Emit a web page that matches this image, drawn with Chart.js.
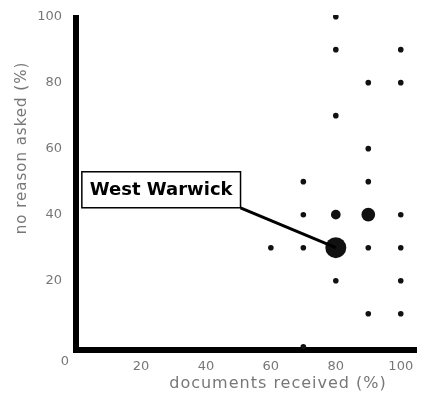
<!DOCTYPE html>
<html>
<head>
<meta charset="utf-8">
<script src="https://cdn.jsdelivr.net/npm/chart.js@4"></script>
<style>
  html, body { margin: 0; padding: 0; background: #fff; }
  #wrap { width: 431px; height: 400px; }
</style>
</head>
<body>
<div id="wrap"><canvas id="chart" width="431" height="400"></canvas></div>
<script>
// ==========================
// DATA
// ==========================
const docsReceived = [80, 80, 100, 90, 100, 80, 90, 70, 90, 70, 80, 90, 100, 60, 70, 80, 90, 100, 80, 100, 90, 100, 70];
const noReasonAsked = [100, 90, 90, 80, 80, 70, 60, 50, 50, 40, 40, 40, 40, 30, 30, 30, 30, 30, 20, 20, 10, 10, 0];
const townCounts = [1, 1, 1, 1, 1, 1, 1, 1, 1, 1, 3, 6, 1, 1, 1, 14, 1, 1, 1, 1, 1, 1, 1];
const xTickValues = [20, 40, 60, 80, 100];
const yTickValues = [20, 40, 60, 80, 100];
const xTitle = "documents received (%)";
const yTitle = "no reason asked (%)";
const calloutText = "West Warwick";
const calloutTarget = { x: 80, y: 30 };

// ==========================
// PLUGIN: axes, titles, callout
// ==========================
const decorations = {
  id: "decorations",
  beforeDatasetsDraw(chart) {
    const { ctx, chartArea: a } = chart;
    ctx.save();
    ctx.strokeStyle = "#000";
    ctx.lineWidth = 6;
    ctx.beginPath();
    ctx.moveTo(a.left, a.top);
    ctx.lineTo(a.left, a.bottom + 3);
    ctx.moveTo(a.left - 3, a.bottom);
    ctx.lineTo(a.right, a.bottom);
    ctx.stroke();

    // origin label
    ctx.fillStyle = "#777";
    ctx.font = "13px 'DejaVu Sans'";
    ctx.textAlign = "center";
    ctx.textBaseline = "middle";
    ctx.fillText("0", a.left - 11, a.bottom + 12);

    // axis titles
    ctx.font = "16px 'DejaVu Sans'";
    ctx.letterSpacing = "1px";
    ctx.fillText(xTitle, 278, 384);
    ctx.font = "15px 'DejaVu Sans'";
    ctx.translate(22, 148);
    ctx.rotate(-Math.PI / 2);
    ctx.fillText(yTitle, 0, 0);
    ctx.restore();
  },
  afterDatasetsDraw(chart) {
    const { ctx, scales } = chart;
    const px = scales.x.getPixelForValue(calloutTarget.x);
    const py = scales.y.getPixelForValue(calloutTarget.y);
    const left = scales.x.getPixelForValue(1.8);
    const top = scales.y.getPixelForValue(53);
    ctx.save();
    ctx.font = "bold 18px 'DejaVu Sans'";
    const w = ctx.measureText(calloutText).width + 16;
    const h = 36;
    ctx.strokeStyle = "#000";
    ctx.lineWidth = 3;
    ctx.beginPath();
    ctx.moveTo(left + w, top + h);
    ctx.lineTo(px, py);
    ctx.stroke();
    ctx.fillStyle = "#fff";
    ctx.fillRect(left, top, w, h);
    ctx.lineWidth = 1.5;
    ctx.strokeRect(left, top, w, h);
    ctx.fillStyle = "#000";
    ctx.textBaseline = "middle";
    ctx.fillText(calloutText, left + 8, top + h / 2 + 1);
    ctx.restore();
  }
};

// ==========================
// CHART
// ==========================
const points = docsReceived.map((x, i) => ({ x: x, y: noReasonAsked[i] }));

new Chart(document.getElementById("chart"), {
  type: "scatter",
  data: {
    datasets: [{
      data: points,
      backgroundColor: "#111",
      borderWidth: 0,
      pointRadius: ctx => 2.8 * Math.sqrt(townCounts[ctx.dataIndex] || 1),
      pointHoverRadius: ctx => 2.8 * Math.sqrt(townCounts[ctx.dataIndex] || 1)
    }]
  },
  options: {
    responsive: false,
    animation: false,
    layout: { padding: { top: 15, right: 14, left: 0, bottom: 0 } },
    plugins: { legend: { display: false }, tooltip: { enabled: false } },
    scales: {
      x: {
        type: "linear",
        min: 0,
        max: 105,
        afterBuildTicks: s => { s.ticks = xTickValues.map(v => ({ value: v })); },
        afterFit: s => { s.height = 50; },
        grid: { display: false },
        border: { display: false },
        ticks: {
          padding: 1,
          color: "#777",
          font: { family: "'DejaVu Sans'", size: 13 },
          maxRotation: 0
        }
      },
      y: {
        type: "linear",
        min: -1,
        max: 100.5,
        afterBuildTicks: s => { s.ticks = yTickValues.map(v => ({ value: v })); },
        afterFit: s => { s.width = 76; },
        grid: { display: false },
        border: { display: false },
        ticks: {
          padding: 6,
          color: "#777",
          font: { family: "'DejaVu Sans'", size: 13 }
        }
      }
    }
  },
  plugins: [decorations]
});
</script>
</body>
</html>
